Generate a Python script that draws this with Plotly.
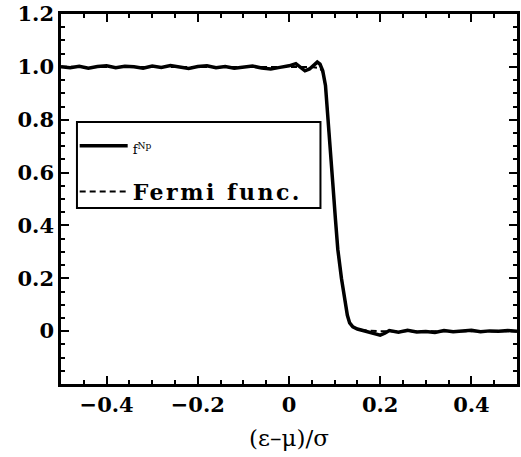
import plotly.graph_objects as go

# f^Np curve
x_np = [-0.50, -0.48, -0.46, -0.44, -0.42, -0.40, -0.38, -0.36, -0.34, -0.32,
        -0.30, -0.28, -0.26, -0.24, -0.22, -0.20, -0.18, -0.16, -0.14, -0.12,
        -0.10, -0.08, -0.06, -0.04, -0.02, 0.00, 0.015, 0.025, 0.035, 0.045,
        0.055, 0.062, 0.068, 0.074, 0.080, 0.088, 0.096, 0.102, 0.107, 0.115,
        0.122, 0.128, 0.133, 0.140, 0.150, 0.160, 0.170, 0.180, 0.190, 0.200,
        0.210, 0.220, 0.240, 0.260, 0.280, 0.300, 0.320, 0.340, 0.360, 0.380,
        0.400, 0.420, 0.440, 0.460, 0.480, 0.500]
y_np = [1.000, 0.997, 1.002, 0.995, 1.001, 1.004, 0.997, 1.002, 1.000, 0.995,
        1.003, 0.998, 1.005, 0.999, 0.994, 1.001, 1.004, 0.997, 1.001, 0.995,
        0.999, 1.003, 0.996, 0.992, 0.998, 1.004, 1.012, 1.000, 0.985, 0.992,
        1.010, 1.018, 1.010, 0.985, 0.930, 0.760, 0.560, 0.420, 0.310, 0.200,
        0.118, 0.060, 0.031, 0.016, 0.008, 0.004, 0.000, -0.004, -0.010, -0.015,
        -0.008, 0.002, -0.004, 0.003, -0.003, -0.001, -0.005, 0.002, -0.002, 0.001,
        0.003, -0.002, 0.001, 0.000, 0.002, 0.000]

# Fermi function (hidden under the f^Np curve)
x_fermi = [-0.50, 0.00, 0.05, 0.068, 0.074, 0.080, 0.088, 0.096, 0.102, 0.107,
           0.115, 0.122, 0.128, 0.133, 0.140, 0.150, 0.170, 0.200, 0.500]
y_fermi = [1.000, 1.000, 0.999, 0.995, 0.980, 0.930, 0.760, 0.560, 0.420, 0.310,
           0.200, 0.118, 0.060, 0.031, 0.016, 0.008, 0.002, 0.000, 0.000]

x_tickvals = [-0.4, -0.2, 0, 0.2, 0.4]
x_ticktext = ["−0.4", "−0.2", "0", "0.2", "0.4"]
y_tickvals = [0, 0.2, 0.4, 0.6, 0.8, 1.0, 1.2]
y_ticktext = ["0", "0.2", "0.4", "0.6", "0.8", "1.0", "1.2"]

fig = go.Figure()
fig.add_trace(go.Scatter(
    x=x_fermi, y=y_fermi, mode="lines", legendgroup="b", legendrank=2,
    name='<span style="letter-spacing:2.5px">Fermi func.</span>',
    line=dict(color="black", width=2, dash="6px,4px")))
fig.add_trace(go.Scatter(
    x=x_np, y=y_np, mode="lines", legendgroup="a", legendrank=1,
    name='<span style="font-size:13px;font-weight:normal">f<sup>Np</sup></span>',
    line=dict(color="black", width=3.5)))

axis_common = dict(
    showline=True, linecolor="black", linewidth=2.5, mirror="allticks",
    ticks="inside", ticklen=8, tickwidth=2, tickcolor="black",
    showgrid=False, zeroline=False,
    tickfont=dict(family="DejaVu Serif", size=21, color="black", weight="bold"),
)

fig.update_xaxes(range=[-0.5, 0.5], tickvals=x_tickvals, ticktext=x_ticktext,
                 minor=dict(dtick=0.05, tick0=0, ticks="inside", ticklen=4,
                            tickwidth=2, tickcolor="black"),
                 title=dict(text="(ε–μ)/σ", standoff=14,
                            font=dict(family="DejaVu Serif", size=23, color="black")),
                 **axis_common)
fig.update_yaxes(range=[-0.2, 1.2], tickvals=y_tickvals, ticktext=y_ticktext,
                 minor=dict(dtick=0.05, tick0=0, ticks="inside", ticklen=4,
                            tickwidth=2, tickcolor="black"),
                 **axis_common)

fig.add_shape(type="rect", xref="paper", yref="paper",
              x0=0.035, x1=0.569, y0=0.476, y1=0.708,
              line=dict(color="black", width=2), fillcolor="rgba(0,0,0,0)")

fig.update_layout(
    width=521, height=457,
    margin=dict(l=61, r=1, t=14, b=73),
    paper_bgcolor="white", plot_bgcolor="white",
    showlegend=True,
    legend=dict(x=0.03, y=0.70, xanchor="left", yanchor="top",
                bgcolor="rgba(0,0,0,0)", borderwidth=0,
                tracegroupgap=14, traceorder="grouped", itemwidth=48,
                font=dict(family="DejaVu Serif", size=22, color="black", weight="bold")),
)

fig.write_html("out.html")
